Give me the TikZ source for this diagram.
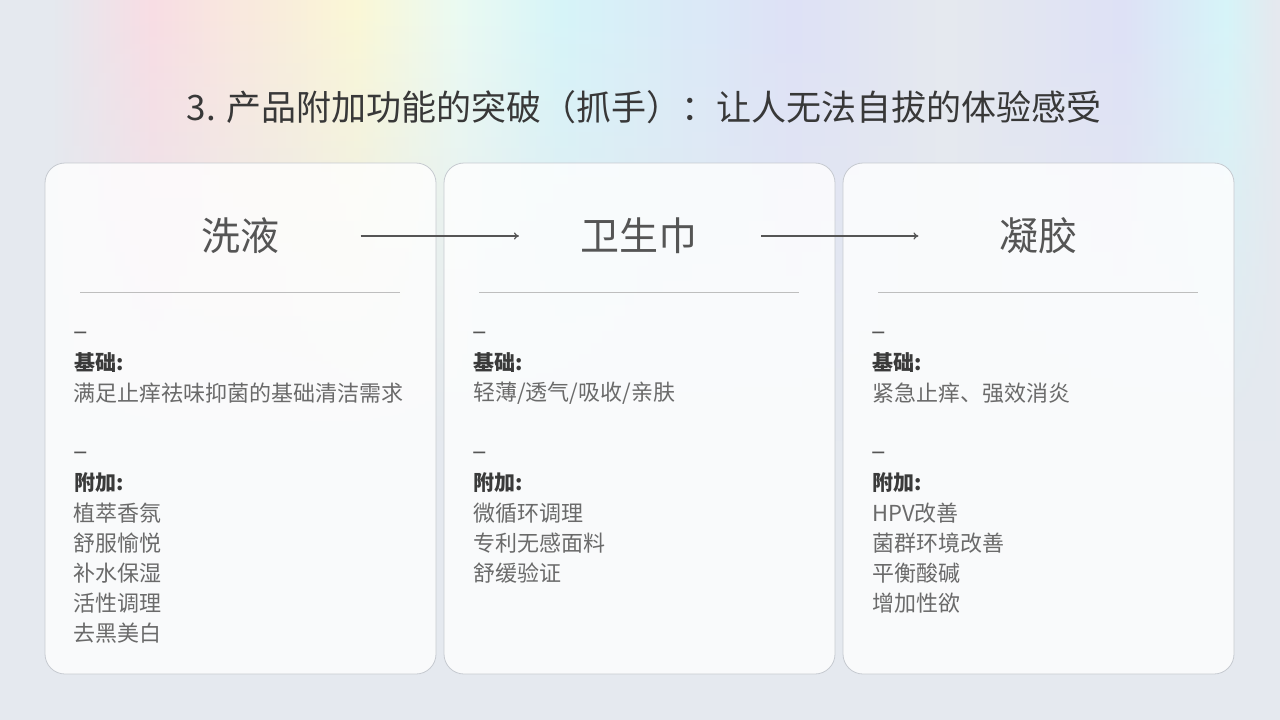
\documentclass[tikz,border=0pt]{standalone}
\usepackage{fontspec}
\setmainfont{Noto Sans CJK SC}
\usetikzlibrary{arrows.meta,fadings}

\definecolor{bgbase}{HTML}{E5E9EF}
\definecolor{rbpink}{HTML}{F9DDE4}
\definecolor{rbyellow}{HTML}{FBF8D6}
\definecolor{rbmint}{HTML}{EBFBF3}
\definecolor{rbcyan}{HTML}{D6F5F9}
\definecolor{rblav}{HTML}{DEE1F7}
\definecolor{titlegray}{HTML}{383838}
\definecolor{headgray}{HTML}{555555}
\definecolor{textgray}{HTML}{6A6A6A}
\definecolor{labelgray}{HTML}{3A3A3A}
\definecolor{cardline}{HTML}{C6CAD0}
\definecolor{sepgray}{HTML}{BEBEBE}

\pgfdeclarehorizontalshading{rainbow}{100bp}{color(0bp)=(bgbase); color(27bp)=(bgbase);
  color(31bp)=(rbpink); color(39bp)=(rbyellow); color(43bp)=(rbmint); color(47bp)=(rbcyan);
  color(56bp)=(rblav); color(62bp)=(bgbase); color(69bp)=(rblav); color(73bp)=(rbcyan);
  color(75bp)=(bgbase); color(100bp)=(bgbase)}
\tikzfading[name=fadedown, top color=transparent!0, middle color=transparent!20,
  bottom color=transparent!100]

\begin{document}
\begin{tikzpicture}[x=1pt,y=-1pt,
  card/.style={draw=cardline, line width=0.8pt, fill=white, fill opacity=0.8,
    rounded corners=20pt, minimum width=391pt, minimum height=511pt},
  head/.style={text=headgray, font=\fontsize{39}{42}\selectfont},
  flow/.style={draw=headgray, line width=1.2pt, -{To[length=5pt,width=7pt]}},
  sepline/.style={draw=sepgray, line width=0.9pt},
  label/.style={anchor=west, inner sep=0pt, text=labelgray, font=\fontsize{21}{24}\selectfont\bfseries},
  item/.style={anchor=west, inner sep=0pt, text=textgray, font=\fontsize{22}{24}\selectfont},
  dashmark/.style={anchor=west, inner sep=0pt, text=headgray, font=\fontsize{27}{30}\selectfont}]

\useasboundingbox (0,0) rectangle (1280,720);

% background
\fill[bgbase] (0,0) rectangle (1280,720);
\shade[shading=rainbow, path fading=fadedown] (0,0) rectangle (1280,440);

% title
\node[text=titlegray, font=\fontsize{35}{38}\selectfont] (title) at (644,107)
  {3. 产品附加功能的突破（抓手）：让人无法自拔的体验感受};

% cards
\foreach \n/\x in {1/45, 2/444, 3/843}
{
    \node[card] (card\n) at (\x+195.5,418.5) {};
    \draw[sepline] (\x+35,292) -- (\x+355,292);
    \node[dashmark] (da\n) at (\x+28,336) {–};
    \node[label] (lb\n) at (\x+29,363) {基础:};
    \node[dashmark] (db\n) at (\x+28,456) {–};
    \node[label] (la\n) at (\x+29,483) {附加:};
}

\node[head] (h1) at (240,236) {洗液};
\node[head] (h2) at (639,236) {卫生巾};
\node[head] (h3) at (1038,236) {凝胶};

\draw[flow, shorten <=78pt, shorten >=58pt] (h1) -- (h2);
\draw[flow, shorten <=60pt, shorten >=77pt] (h2) -- (h3);

% basic needs
\node[item] (b1) at (73,393) {满足止痒祛味抑菌的基础清洁需求};
\node[item] (b2) at (473,393) {轻薄/透气/吸收/亲肤};
\node[item] (b3) at (872,393) {紧急止痒、强效消炎};

% add-ons
\foreach \t [count=\i] in {植萃香氛,舒服愉悦,补水保湿,活性调理,去黑美白}
    \node[item] (a1\i) at (73,483+30*\i) {\t};
\foreach \t [count=\i] in {微循环调理,专利无感面料,舒缓验证}
    \node[item] (a2\i) at (473,483+30*\i) {\t};
\foreach \t [count=\i] in {HPV改善,菌群环境改善,平衡酸碱,增加性欲}
    \node[item] (a3\i) at (872,483+30*\i) {\t};

\end{tikzpicture}
\end{document}
